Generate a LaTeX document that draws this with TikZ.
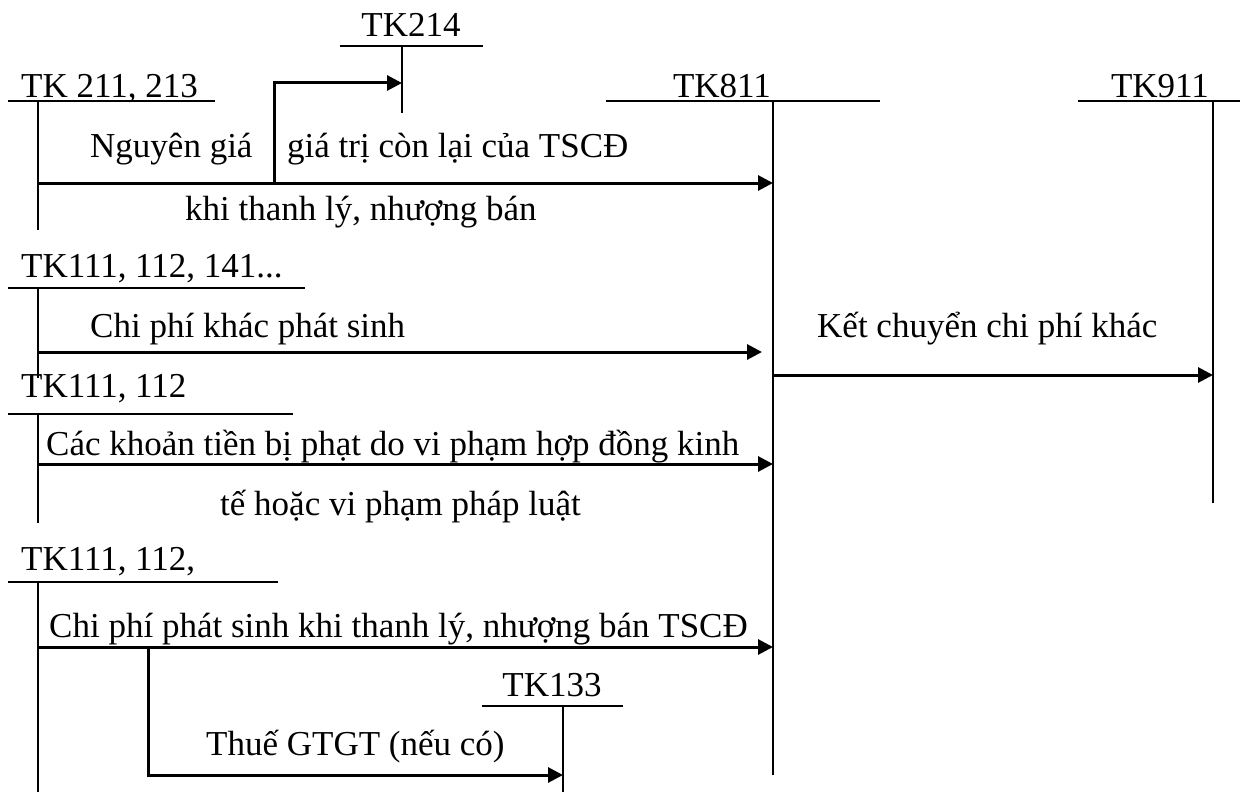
\documentclass[tikz,border=0pt]{standalone}
\usepackage{fontspec}
\setmainfont{Liberation Serif}
\usetikzlibrary{arrows.meta}
\begin{document}
\begin{tikzpicture}[x=1pt,y=-1pt,
  acct/.style={line width=1.9pt},
  flow/.style={line width=3pt,-{Triangle[length=15pt,width=15pt]}},
  lbl/.style={inner sep=0pt,anchor=base west,font=\fontsize{35}{42}\selectfont},
  clbl/.style={inner sep=0pt,anchor=base,font=\fontsize{35}{42}\selectfont}]
\useasboundingbox (0,0) rectangle (1248,792);

% account headings
\node[clbl] (t214) at (411,37) {TK214};
\node[lbl]  (t211) at (21,97) {TK 211, 213};
\node[clbl] (t811) at (722,98) {TK811};
\node[clbl] (t911) at (1160,98) {TK911};
\node[lbl]  (t111a) at (21,277) {TK111, 112, 141...};
\node[lbl]  (t111b) at (21,397) {TK111, 112};
\node[lbl]  (t111c) at (21,570) {TK111, 112,};
\node[clbl] (t133) at (552,696) {TK133};

% T-account rulings
\coordinate (h214a) at (340,46);  \coordinate (h214b) at (483,46);
\coordinate (v214a) at (402,46);  \coordinate (v214b) at (402,113);
\coordinate (h211a) at (8,101);   \coordinate (h211b) at (215,101);
\coordinate (v211a) at (38,101);  \coordinate (v211b) at (38,230);
\coordinate (h811a) at (606,101); \coordinate (h811b) at (880,101);
\coordinate (v811a) at (773,101); \coordinate (v811b) at (773,775);
\coordinate (h911a) at (1078,101);\coordinate (h911b) at (1240,101);
\coordinate (v911a) at (1213,101);\coordinate (v911b) at (1213,503);
\coordinate (h111aa) at (8,288);  \coordinate (h111ab) at (305,288);
\coordinate (v111aa) at (38,288); \coordinate (v111ab) at (38,378);
\coordinate (h111ba) at (8,414);  \coordinate (h111bb) at (293,414);
\coordinate (v111ba) at (38,414); \coordinate (v111bb) at (38,523);
\coordinate (h111ca) at (8,582);  \coordinate (h111cb) at (278,582);
\coordinate (v111ca) at (38,582); \coordinate (v111cb) at (38,792);
\coordinate (h133a) at (482,706); \coordinate (h133b) at (623,706);
\coordinate (v133a) at (563,706); \coordinate (v133b) at (563,792);

\foreach \a/\b in {h214a/h214b,v214a/v214b,h211a/h211b,v211a/v211b,
  h811a/h811b,v811a/v811b,h911a/h911b,v911a/v911b,h111aa/h111ab,
  v111aa/v111ab,h111ba/h111bb,v111ba/v111bb,h111ca/h111cb,v111ca/v111cb,
  h133a/h133b,v133a/v133b}
  \draw[acct] (\a) -- (\b);

% entry points on the rulings
\coordinate (s1) at (38,183);  \coordinate (e1) at (773,183);
\coordinate (b1) at (274,183); \coordinate (k1) at (274,83); \coordinate (e214) at (402,83);
\coordinate (s2) at (38,352);  \coordinate (e2) at (762,352);
\coordinate (s3) at (773,375); \coordinate (e3) at (1213,375);
\coordinate (s4) at (38,464);  \coordinate (e4) at (773,464);
\coordinate (s5) at (38,647);  \coordinate (e5) at (773,647);
\coordinate (b5) at (148,647); \coordinate (k5) at (148,775); \coordinate (e133) at (563,775);

\draw[flow] (s1) -- (e1);
\draw[flow] (b1) -- (k1) -- (e214);
\draw[flow] (s2) -- (e2);
\draw[flow] (s3) -- (e3);
\draw[flow] (s4) -- (e4);
\draw[flow] (s5) -- (e5);
\draw[flow] (b5) -- (k5) -- (e133);

% entry descriptions
\node[lbl] (d1a) at (90,157) {Nguyên giá};
\node[lbl] (d1b) at (287,157) {giá trị còn lại của TSCĐ};
\node[lbl] (d1c) at (185,220) {khi thanh lý, nhượng bán};
\node[lbl] (d2)  at (90,337) {Chi phí khác phát sinh};
\node[lbl] (d3)  at (817,337) {Kết chuyển chi phí khác};
\node[lbl] (d4a) at (46,455) {Các khoản tiền bị phạt do vi phạm hợp đồng kinh};
\node[lbl] (d4b) at (220,515) {tế hoặc vi phạm pháp luật};
\node[lbl] (d5)  at (49,637) {Chi phí phát sinh khi thanh lý, nhượng bán TSCĐ};
\node[lbl] (d6)  at (206,755) {Thuế GTGT (nếu có)};
\end{tikzpicture}
\end{document}
